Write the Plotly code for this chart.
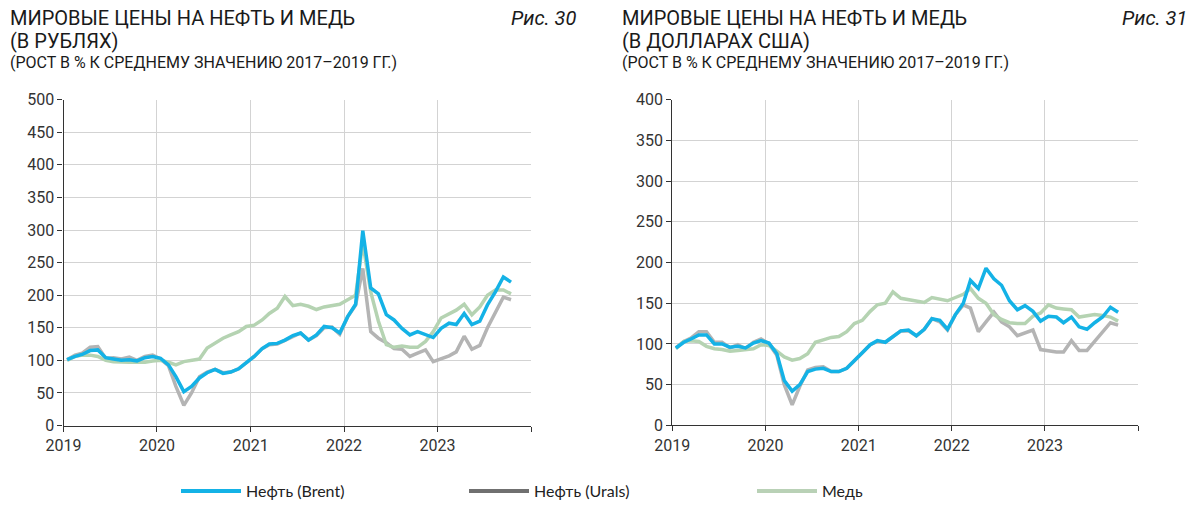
import plotly.graph_objects as go

# Monthly observations, Jan 2019 - Oct 2023 (plotted mid-month)
months = [f"{y}-{m:02d}-15" for y in range(2019, 2024) for m in range(1, 13)][:58]

# Fig. 30 - in roubles
brent_rub = [101, 106, 109, 115, 116, 104, 102, 100, 101, 99, 104, 106,
             103, 93, 75, 52, 60, 73, 81, 86, 80, 82, 87, 96,
             106, 118, 125, 126, 131, 138, 142, 131, 139, 152, 150, 142,
             167, 186, 299, 211, 202, 170, 162, 149, 139, 144, 140, 135,
             149, 157, 155, 172, 155, 160, 185, 205, 228, 220]
urals_rub = [101, 108, 111, 120, 121, 103, 104, 102, 105, 100, 106, 108,
             102, 92, 60, 31, 50, 75, 82, 86, 81, 82, 87, 96,
             106, 118, 124, 125, 131, 137, 142, 131, 138, 150, 151, 140,
             167, 185, 241, 144, 134, 127, 118, 117, 106, 111, 116, 98,
             102, 107, 113, 137, 117, 123, 150, 175, 197, 193]
copper_rub = [100, 106, 108, 108, 106, 100, 98, 97, 97, 97, 97, 99,
              100, 97, 93, 98, 100, 102, 119, 126, 134, 139, 144, 152,
              154, 162, 172, 180, 198, 184, 186, 183, 178, 182, 184, 186,
              193, 200, 280, 205, 160, 124, 120, 122, 120, 120, 129, 144,
              165, 171, 177, 186, 170, 182, 200, 208, 208, 202]

# Fig. 31 - in US dollars
brent_usd = [95, 102, 106, 111, 111, 100, 100, 96, 97, 95, 101, 104,
             101, 88, 55, 42, 50, 66, 69, 70, 66, 66, 70, 80,
             89, 99, 104, 102, 109, 116, 117, 110, 118, 131, 129, 118,
             136, 150, 178, 168, 193, 180, 172, 153, 142, 147, 140, 128,
             134, 133, 126, 133, 121, 118, 126, 133, 145, 139]
urals_usd = [95, 103, 107, 115, 115, 102, 102, 95, 99, 94, 102, 106,
             100, 86, 50, 25, 48, 68, 71, 72, 66, 66, 70, 80,
             89, 99, 103, 102, 109, 116, 116, 110, 118, 131, 127, 117,
             136, 148, 144, 115, 127, 139, 127, 121, 110, 113, 117, 93,
             91, 90, 90, 104, 92, 92, 103, 115, 126, 123]
copper_usd = [94, 103, 104, 103, 97, 94, 93, 91, 92, 93, 94, 99,
              98, 91, 84, 80, 82, 88, 102, 105, 108, 109, 115, 125,
              129, 140, 148, 150, 164, 156, 154, 152, 151, 157, 155, 153,
              157, 161, 168, 156, 150, 136, 130, 126, 125, 125, 134, 138,
              148, 144, 143, 142, 133, 135, 136, 135, 133, 128]

series_names = ["Нефть (Brent)", "Нефть (Urals)", "Медь"]
line_colors = ["#14B2E6", "#B4B4B4", "#B5D3B2"]
legend_colors = ["#14B2E6", "#707070", "#B9D1B6"]

year_ticks = [f"{y}-01-01" for y in range(2019, 2025)]
year_labels = ["2019", "2020", "2021", "2022", "2023", ""]

FONT = "Roboto, sans-serif"

fig = go.Figure()

left = [urals_rub, copper_rub, brent_rub]
right = [urals_usd, copper_usd, brent_usd]
order = [1, 2, 0]  # draw gray, green, then blue on top
for idx, vals in zip(order, left):
    fig.add_trace(go.Scatter(x=months, y=vals, mode="lines", name=series_names[idx],
                             line=dict(color=line_colors[idx], width=3.5),
                             xaxis="x", yaxis="y", showlegend=False))
for idx, vals in zip(order, right):
    fig.add_trace(go.Scatter(x=months, y=vals, mode="lines", name=series_names[idx],
                             line=dict(color=line_colors[idx], width=3.5),
                             xaxis="x2", yaxis="y2", showlegend=False))
# legend entries
for name, col in zip(series_names, legend_colors):
    fig.add_trace(go.Scatter(x=[None], y=[None], mode="lines", name=name,
                             line=dict(color=col, width=4), xaxis="x", yaxis="y"))

W, H = 1200, 515
def px(x):
    return x / W
def py(y):
    return 1 - y / H

xcommon = dict(type="date", range=["2019-01-01", "2024-01-01"], tickmode="array",
               tickvals=year_ticks, ticktext=year_labels, showgrid=True, automargin=False,
               gridcolor="#D3D3D3", gridwidth=1.3, showline=True, linecolor="#333333",
               linewidth=1.2, ticks="outside", ticklen=5, tickcolor="#333333",
               tickfont=dict(family=FONT, size=16, color="#333333"), zeroline=False)
ycommon = dict(dtick=50, showgrid=True, gridcolor="#D3D3D3", gridwidth=1.3, automargin=False,
               showline=True, linecolor="#333333", linewidth=1.2, ticks="outside",
               ticklen=5, tickcolor="#333333", zeroline=False,
               tickfont=dict(family=FONT, size=16, color="#333333"))

fig.update_layout(
    width=W, height=H,
    margin=dict(l=0, r=0, t=0, b=0, autoexpand=False),
    paper_bgcolor="white", plot_bgcolor="white",
    xaxis=dict(domain=[px(63.5), px(531)], anchor="y", **xcommon),
    yaxis=dict(domain=[py(425.5), py(99.7)], range=[0, 500], anchor="x", **ycommon),
    xaxis2=dict(domain=[px(672.3), px(1138)], anchor="y2", **xcommon),
    yaxis2=dict(domain=[py(425.3), py(99.7)], range=[0, 400], anchor="x2", **ycommon),
    legend=dict(orientation="h", x=px(176), y=py(491), xanchor="left", yanchor="middle",
                entrywidth=213, entrywidthmode="pixels", itemwidth=60,
                font=dict(family="Lato, Open Sans, sans-serif", size=16, color="#222222"),
                bgcolor="rgba(0,0,0,0)"),
    showlegend=True,
)

tfont = dict(family=FONT, size=20, color="#1a1a1a")
sfont = dict(family=FONT, size=16, color="#1a1a1a")
ifont = dict(family=FONT, size=20, color="#1a1a1a")
anns = [
    (8, 18, "МИРОВЫЕ ЦЕНЫ НА НЕФТЬ И МЕДЬ", tfont, "left"),
    (8, 41, "(В РУБЛЯХ)", tfont, "left"),
    (8, 63, "(РОСТ В % К СРЕДНЕМУ ЗНАЧЕНИЮ 2017–2019 ГГ.)", sfont, "left"),
    (579, 18, "<i>Рис. 30</i>", ifont, "right"),
    (620, 18, "МИРОВЫЕ ЦЕНЫ НА НЕФТЬ И МЕДЬ", tfont, "left"),
    (620, 41, "(В ДОЛЛАРАХ США)", tfont, "left"),
    (620, 63, "(РОСТ В % К СРЕДНЕМУ ЗНАЧЕНИЮ 2017–2019 ГГ.)", sfont, "left"),
    (1189, 18, "<i>Рис. 31</i>", ifont, "right"),
]
for x, y, t, f, a in anns:
    fig.add_annotation(x=px(x), y=py(y), xref="paper", yref="paper", text=t,
                       showarrow=False, font=f, xanchor=a, yanchor="middle")

fig.write_html("out.html", config={"displayModeBar": False},
               post_script="document.body.style.margin='0px';")
